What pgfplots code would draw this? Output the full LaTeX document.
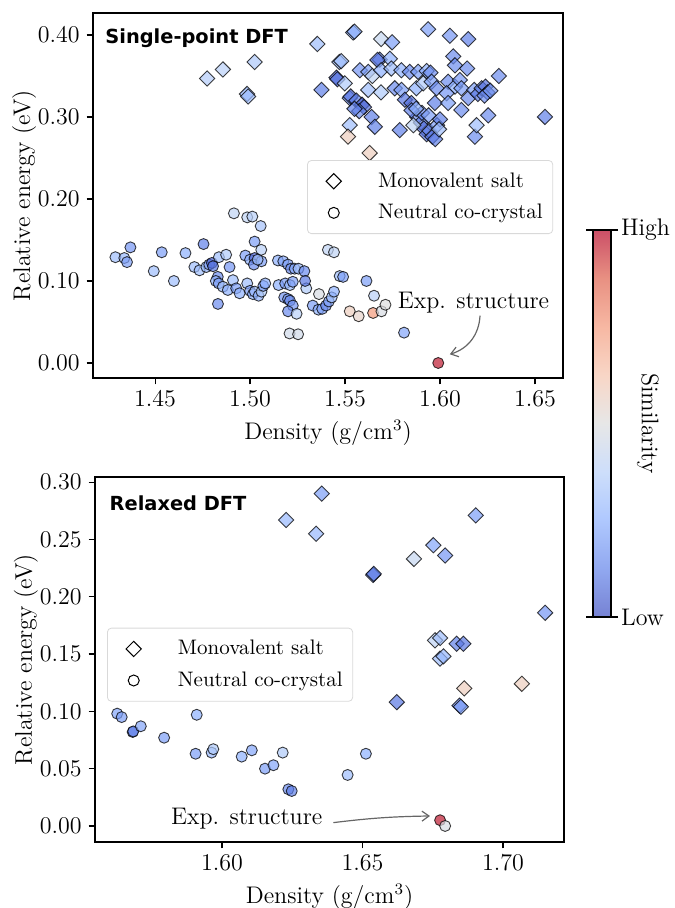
\documentclass[border=0pt]{standalone}
\usepackage{fontspec}
\usepackage{pgfplots}
\usepackage{pgfplotstable}
\pgfplotsset{compat=1.18}
\usetikzlibrary{arrows.meta}
\newfontfamily\dejavu{DejaVu Sans}

\pgfplotsset{
 colormap={cw}{rgb255(0)=(59,76,192) rgb255(1)=(98,130,234) rgb255(2)=(141,176,254) rgb255(3)=(184,208,249) rgb255(4)=(221,221,221) rgb255(5)=(245,196,173) rgb255(6)=(244,154,123) rgb255(7)=(222,96,77) rgb255(8)=(180,4,38)},
 colormap={cwb}{rgb255(0)=(118,130,211) rgb255(1)=(145,168,240) rgb255(2)=(175,200,254) rgb255(3)=(205,222,251) rgb255(4)=(231,231,231) rgb255(5)=(248,214,198) rgb255(6)=(247,184,163) rgb255(7)=(232,144,130) rgb255(8)=(203,79,103)},
 diam/.style={scatter, only marks, mark=square*, mark size=2.7pt, point meta=explicit, colormap name=cw,
   scatter/use mapped color={draw=black, fill=mapped color},
   mark options={rotate=45, fill opacity=0.7, draw opacity=0.75, line width=0.45pt}},
 circ/.style={scatter, only marks, mark=*, mark size=2.75pt, point meta=explicit, colormap name=cw,
   scatter/use mapped color={draw=black, fill=mapped color},
   mark options={fill opacity=0.7, draw opacity=0.75, line width=0.45pt}},
 base/.style={scale only axis, anchor=south west, point meta min=0, point meta max=1,
   tick align=outside, major tick length=3.2pt, tick pos=left,
   axis line style={line width=0.6pt}, every tick/.style={black, line width=0.6pt},
   tick label style={font=\fontsize{12}{14}\selectfont},
   label style={font=\fontsize{12}{14}\selectfont},
   ylabel shift=-6pt,
   xticklabel style={/pgf/number format/.cd, fixed, fixed zerofill, precision=2},
   yticklabel style={/pgf/number format/.cd, fixed, fixed zerofill, precision=2},
   xlabel={Density (g/cm$^3$)}, ylabel={Relative energy (eV)},
   legend cell align=left,
   legend style={font=\fontsize{10.5}{12}\selectfont, draw=black!15, rounded corners=2pt, row sep=3pt, inner xsep=3pt, inner ysep=4pt}},
 leg/.style={legend image code/.code={\path (0cm,0cm) (1.05cm,0cm); \draw[##1] plot coordinates {(0.35cm,0cm)};}},
}

\pgfplotstableread{
x y c
1.4774 0.347 0.36
1.4857 0.358 0.38
1.5024 0.367 0.34
1.4984 0.328 0.27
1.4990 0.325 0.30
1.5354 0.389 0.30
1.5376 0.333 0.12
1.5455 0.348 0.05
1.5460 0.346 0.10
1.5470 0.367 0.30
1.5543 0.403 0.22
1.5550 0.404 0.26
1.5690 0.395 0.42
1.5748 0.391 0.20
1.5938 0.407 0.20
1.6052 0.399 0.18
1.6149 0.395 0.12
1.5480 0.368 0.30
1.5683 0.370 0.15
1.5736 0.371 0.25
1.6070 0.374 0.15
1.6079 0.363 0.15
1.6143 0.359 0.15
1.6310 0.350 0.15
1.5499 0.341 0.35
1.5525 0.323 0.15
1.5578 0.357 0.18
1.5622 0.355 0.20
1.5644 0.350 0.40
1.5671 0.3695 0.10
1.5690 0.357 0.25
1.5744 0.359 0.30
1.5797 0.357 0.25
1.5841 0.355 0.15
1.5885 0.355 0.20
1.5930 0.356 0.25
1.5950 0.354 0.15
1.5622 0.333 0.30
1.5690 0.330 0.35
1.5762 0.335 0.15
1.5797 0.333 0.20
1.5815 0.321 0.10
1.5850 0.317 0.08
1.5876 0.335 0.25
1.5912 0.341 0.35
1.5956 0.343 0.20
1.5982 0.335 0.15
1.6043 0.343 0.15
1.6079 0.337 0.25
1.6105 0.345 0.18
1.6113 0.335 0.20
1.6035 0.329 0.18
1.5973 0.317 0.12
1.6043 0.317 0.20
1.6113 0.3085 0.15
1.6149 0.323 0.15
1.6180 0.333 0.20
1.6200 0.328 0.10
1.6220 0.335 0.15
1.6240 0.337 0.08
1.6250 0.330 0.12
1.6235 0.326 0.15
1.6265 0.332 0.18
1.6254 0.302 0.15
1.6184 0.276 0.15
1.6193 0.290 0.30
1.6553 0.300 0.12
1.5530 0.325 0.10
1.5560 0.320 0.12
1.5590 0.315 0.05
1.5600 0.312 0.08
1.5575 0.307 0.15
1.5550 0.310 0.12
1.5640 0.300 0.12
1.5657 0.288 0.12
1.5525 0.290 0.30
1.5516 0.276 0.58
1.5630 0.256 0.58
1.5788 0.284 0.12
1.5880 0.300 0.15
1.5900 0.293 0.12
1.5915 0.286 0.08
1.5930 0.279 0.10
1.5945 0.283 0.15
1.5960 0.276 0.10
1.5975 0.273 0.12
1.5985 0.290 0.20
1.6000 0.297 0.12
1.5995 0.285 0.30
1.5905 0.305 0.15
1.5940 0.302 0.20
1.5850 0.308 0.12
1.5875 0.310 0.25
1.5860 0.290 0.40
}\topsalt

\pgfplotstableread{
x y c
1.4291 0.129 0.30
1.4338 0.128 0.28
1.4370 0.141 0.18
1.4352 0.123 0.20
1.4493 0.112 0.30
1.4535 0.135 0.20
1.4599 0.100 0.30
1.4660 0.134 0.25
1.4707 0.117 0.30
1.4755 0.145 0.12
1.4734 0.113 0.30
1.4770 0.117 0.28
1.4785 0.120 0.20
1.4799 0.122 0.05
1.4805 0.118 0.10
1.4836 0.129 0.30
1.4874 0.132 0.35
1.4892 0.117 0.18
1.4830 0.105 0.15
1.4820 0.100 0.25
1.4835 0.097 0.20
1.4857 0.093 0.30
1.4883 0.089 0.25
1.4910 0.101 0.30
1.4927 0.091 0.20
1.4945 0.085 0.25
1.4831 0.072 0.15
1.4915 0.1825 0.40
1.4985 0.1776 0.40
1.5012 0.1785 0.38
1.5056 0.167 0.32
1.5024 0.148 0.20
1.5059 0.138 0.38
1.4975 0.131 0.20
1.5000 0.126 0.25
1.5024 0.128 0.05
1.5020 0.120 0.15
1.5060 0.124 0.20
1.5040 0.126 0.30
1.4985 0.097 0.30
1.5000 0.088 0.20
1.5015 0.084 0.25
1.5025 0.087 0.30
1.5045 0.082 0.25
1.5060 0.087 0.35
1.5070 0.094 0.20
1.5080 0.097 0.25
1.5147 0.125 0.25
1.5175 0.124 0.22
1.5200 0.120 0.20
1.5215 0.115 0.15
1.5235 0.115 0.25
1.5255 0.115 0.30
1.5150 0.095 0.25
1.5185 0.097 0.20
1.5210 0.095 0.28
1.5225 0.099 0.20
1.5180 0.080 0.18
1.5200 0.078 0.20
1.5210 0.076 0.15
1.5225 0.070 0.18
1.5200 0.063 0.15
1.5245 0.060 0.38
1.5208 0.036 0.45
1.5253 0.035 0.45
1.5296 0.091 0.35
1.5330 0.070 0.20
1.5360 0.065 0.25
1.5380 0.066 0.20
1.5400 0.070 0.15
1.5415 0.075 0.20
1.5430 0.080 0.30
1.5363 0.084 0.48
1.5410 0.138 0.40
1.5442 0.135 0.40
1.5472 0.106 0.30
1.5286 0.112 0.15
1.5290 0.100 0.10
1.5490 0.105 0.20
1.5613 0.100 0.20
1.5653 0.082 0.38
1.5442 0.087 0.25
1.5525 0.063 0.58
1.5572 0.057 0.55
1.5648 0.061 0.75
1.5692 0.063 0.48
1.5713 0.071 0.50
1.5811 0.037 0.22
1.5991 0.000 0.97
}\topneut

\pgfplotstableread{
x y c
1.6355 0.290 0.20
1.6228 0.267 0.28
1.6335 0.255 0.28
1.6903 0.271 0.20
1.6752 0.245 0.22
1.6794 0.236 0.18
1.6683 0.233 0.42
1.6538 0.219 0.10
1.6540 0.220 0.12
1.7150 0.186 0.18
1.6758 0.162 0.40
1.6776 0.164 0.30
1.6835 0.159 0.12
1.6859 0.159 0.10
1.6776 0.146 0.30
1.6788 0.148 0.28
1.6862 0.120 0.58
1.7067 0.124 0.58
1.6622 0.108 0.10
1.6845 0.105 0.15
1.6850 0.104 0.20
}\botsalt

\pgfplotstableread{
x y c
1.5627 0.098 0.22
1.5643 0.095 0.20
1.5682 0.082 0.15
1.5684 0.0825 0.12
1.5711 0.087 0.22
1.5794 0.077 0.20
1.5910 0.097 0.25
1.5906 0.063 0.20
1.5963 0.064 0.28
1.5969 0.067 0.35
1.6070 0.0605 0.25
1.6106 0.066 0.22
1.6153 0.050 0.20
1.6183 0.053 0.22
1.6216 0.064 0.35
1.6236 0.032 0.15
1.6248 0.0305 0.12
1.6512 0.063 0.25
1.6447 0.0445 0.30
1.6776 0.005 0.97
1.6794 0.000 0.48
}\botneut

\begin{document}
\begin{tikzpicture}
\useasboundingbox (0,0) rectangle (337pt,454pt);
% top
\begin{axis}[base, at={(46.5pt,265pt)}, width=235pt, height=182.5pt,
  xmin=1.4173, xmax=1.6648, ymin=-0.0183, ymax=0.4268,
  xtick={1.45,1.5,1.55,1.6,1.65}, ytick={0,0.1,0.2,0.3,0.4},
  legend style={at={(0.979,0.597)}, anchor=north east}]
\addplot[diam, forget plot] table[x=x, y=y, meta=c] {\topsalt};
\addplot[circ, forget plot] table[x=x, y=y, meta=c] {\topneut};
\addlegendimage{leg, only marks, mark=square, mark size=2.7pt, mark options={rotate=45, fill=white, draw=black, line width=0.5pt}}
\addlegendentry{Monovalent salt}
\addlegendimage{leg, only marks, mark=o, mark size=2.75pt, mark options={fill=white, draw=black, line width=0.5pt}}
\addlegendentry{Neutral co-crystal}
\node[anchor=base west, font=\dejavu\bfseries\fontsize{9.7}{11}\selectfont, inner sep=0pt] at (rel axis cs:0.0255,0.917) {Single-point DFT};
\node[anchor=base, font=\fontsize{12}{14}\selectfont, inner sep=0pt] at (axis cs:1.6177,0.0659) {Exp. structure};
\draw[-{Straight Barb[length=3.5pt,width=5pt]}, black!60, line width=0.6pt] (axis cs:1.6211,0.0577) to[bend left=35] (axis cs:1.6052,0.0106);
\end{axis}
% bottom
\begin{axis}[base, at={(47.5pt,33pt)}, width=234.5pt, height=182.5pt,
  xmin=1.5548, xmax=1.7217, ymin=-0.014, ymax=0.3045,
  xtick={1.6,1.65,1.7}, ytick={0,0.05,0.1,0.15,0.2,0.25,0.3},
  legend style={at={(0.0256,0.587)}, anchor=north west}]
\addplot[diam, forget plot] table[x=x, y=y, meta=c] {\botsalt};
\addplot[circ, forget plot] table[x=x, y=y, meta=c] {\botneut};
\addlegendimage{leg, only marks, mark=square, mark size=2.7pt, mark options={rotate=45, fill=white, draw=black, line width=0.5pt}}
\addlegendentry{Monovalent salt}
\addlegendimage{leg, only marks, mark=o, mark size=2.75pt, mark options={fill=white, draw=black, line width=0.5pt}}
\addlegendentry{Neutral co-crystal}
\node[anchor=base west, font=\dejavu\bfseries\fontsize{9.7}{11}\selectfont, inner sep=0pt] at (rel axis cs:0.0305,0.9077) {Relaxed DFT};
\node[anchor=base, font=\fontsize{12}{14}\selectfont, inner sep=0pt] at (axis cs:1.6088,0.0009) {Exp. structure};
\draw[-{Straight Barb[length=3.5pt,width=5pt]}, black!60, line width=0.6pt] (axis cs:1.6396,0.0029) to[bend left=3] (axis cs:1.674,0.0087);
\end{axis}
% colorbar
\begin{axis}[scale only axis, anchor=south west, at={(296.5pt,145.5pt)}, width=9pt, height=193.5pt, clip=false,
  xmin=0, xmax=1, ymin=0, ymax=1, view={0}{90}, xtick=\empty, ytick={0,1}, yticklabels={Low,High},
  yticklabel pos=right, tick align=outside, major tick length=3.5pt,
  axis line style={line width=0.6pt}, every tick/.style={black, line width=0.6pt},
  tick label style={font=\fontsize{12}{14}\selectfont}, yticklabel style={xshift=-2pt},
  colormap name=cwb, point meta min=0, point meta max=1]
\addplot3[surf, shader=interp, point meta=y] coordinates {
(0,0,0) (1,0,0)

(0,0.125,0) (1,0.125,0)

(0,0.25,0) (1,0.25,0)

(0,0.375,0) (1,0.375,0)

(0,0.5,0) (1,0.5,0)

(0,0.625,0) (1,0.625,0)

(0,0.75,0) (1,0.75,0)

(0,0.875,0) (1,0.875,0)

(0,1,0) (1,1,0)
};
\node[rotate=-90, font=\fontsize{12}{14}\selectfont] at (rel axis cs:3.05,0.5) {Similarity};
\end{axis}
\end{tikzpicture}
\end{document}
